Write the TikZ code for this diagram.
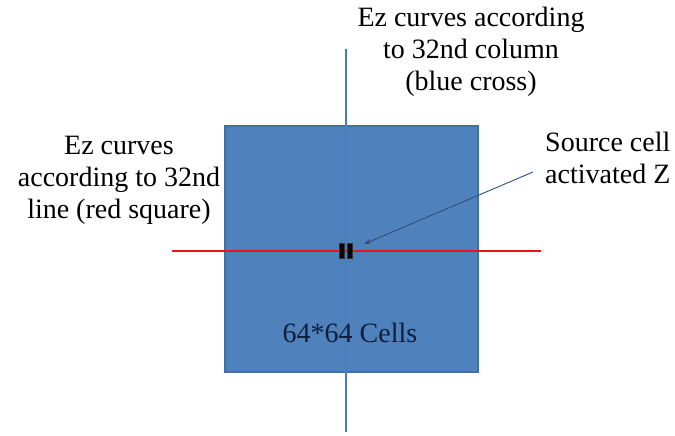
\documentclass[tikz,border=0pt]{standalone}
\usepackage{fontspec}
\setmainfont{Liberation Serif}
\usetikzlibrary{arrows.meta}
\definecolor{boxfill}{HTML}{4F81BD}
\definecolor{boxedge}{HTML}{41719C}
\definecolor{vline}{HTML}{4A7EBB}
\definecolor{hline}{HTML}{E8141B}
\definecolor{arrowc}{HTML}{2E4F7A}
\definecolor{navy}{HTML}{0F1F3D}
\tikzset{
  lbl/.style={font=\fontsize{28}{32}\selectfont, align=center, inner sep=0pt, text=black},
  cell/.style={fill=black, draw=black!80, line width=0.4pt, minimum width=5pt, minimum height=15pt, inner sep=0pt}
}
\begin{document}
\begin{tikzpicture}[x=1pt,y=-1pt]
\useasboundingbox (0,0) rectangle (675,436);
\node[draw=boxedge, line width=1.5pt, fill=boxfill, minimum width=253pt, minimum height=246pt, inner sep=0pt] (grid) at (351.5,249) {};
\coordinate (vtop) at (346,49);
\coordinate (vbot) at (346,432);
\draw[vline, line width=2pt] (vtop) -- (vbot);
\coordinate (hl) at (172,251);
\coordinate (hr) at (541,251);
\draw[hline, line width=2.8pt] (hl) -- (hr);
\node[cell] (c1) at (342,251) {};
\node[cell] (c2) at (350,251) {};
\node[lbl] (top) at (471,52) {Ez curves according\\to 32nd column\\(blue cross)};
\node[lbl] (left) at (119,180) {Ez curves\\according to 32nd\\line (red square)};
\node[lbl, align=left, anchor=west] (src) at (545,158) {Source cell\\activated Z};
\node[lbl, text=navy] (cells) at (350,333) {64*64 Cells};
\coordinate (astart) at (533,172);
\coordinate (aend) at (364,244);
\draw[arrowc, line width=0.9pt, -{Stealth[length=7pt,width=5pt]}] (astart) -- (aend);
\end{tikzpicture}
\end{document}
